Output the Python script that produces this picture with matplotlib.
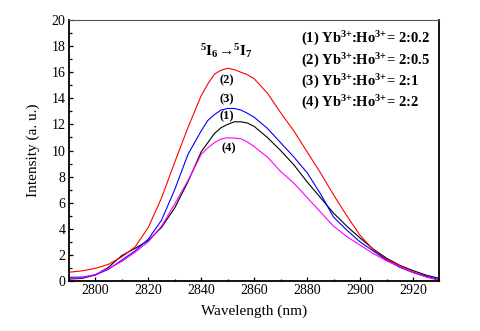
import matplotlib
matplotlib.use("Agg")
import matplotlib.pyplot as plt
from matplotlib.ticker import MultipleLocator

plt.rcParams['font.family'] = ['Liberation Serif', 'DejaVu Serif']
plt.rcParams['mathtext.fontset'] = 'custom'
plt.rcParams['mathtext.rm'] = 'Liberation Serif'
plt.rcParams['mathtext.bf'] = 'Liberation Serif:bold'
plt.rcParams['mathtext.default'] = 'bf'

# Emission spectra, wavelength in nm
wavelength = [2790, 2795, 2800, 2805, 2810, 2815, 2820, 2825, 2830, 2835,
              2840, 2842.5, 2845, 2847.5, 2850, 2852.5, 2855, 2857.5, 2860,
              2865, 2870, 2875, 2880, 2885, 2890, 2895, 2900, 2905, 2910,
              2915, 2920, 2925, 2930]

# (1) Yb:Ho = 2:0.2
s1 = [0.15, 0.20, 0.46, 1.05, 1.95, 2.50, 3.10, 4.10, 5.60, 7.60,
      9.90, 10.60, 11.30, 11.75, 12.00, 12.20, 12.20, 12.10, 11.85,
      11.00, 10.00, 8.90, 7.60, 6.40, 5.20, 4.20, 3.30, 2.45, 1.75,
      1.20, 0.80, 0.45, 0.20]
# (2) Yb:Ho = 2:0.5
s2 = [0.67, 0.78, 0.97, 1.28, 1.85, 2.60, 4.10, 6.35, 9.10, 11.75,
      14.20, 15.10, 15.85, 16.15, 16.30, 16.20, 16.00, 15.80, 15.50,
      14.40, 12.90, 11.50, 9.90, 8.30, 6.60, 5.00, 3.50, 2.40, 1.65,
      1.15, 0.70, 0.35, 0.05]
# (3) Yb:Ho = 2:1
s3 = [0.28, 0.30, 0.46, 0.90, 1.60, 2.30, 3.20, 4.65, 7.00, 9.70,
      11.50, 12.30, 12.75, 13.10, 13.22, 13.22, 13.10, 12.85, 12.55,
      11.70, 10.60, 9.50, 8.30, 6.70, 4.90, 3.90, 3.00, 2.30, 1.60,
      1.05, 0.65, 0.35, 0.10]
# (4) Yb:Ho = 2:2
s4 = [0.20, 0.25, 0.50, 0.95, 1.50, 2.20, 3.00, 4.20, 5.90, 7.70,
      9.70, 10.20, 10.60, 10.88, 10.98, 10.95, 10.90, 10.65, 10.30,
      9.50, 8.40, 7.50, 6.40, 5.30, 4.20, 3.40, 2.75, 2.10, 1.55,
      1.10, 0.65, 0.30, 0.05]

series = [s1, s2, s3, s4]
colors = ['black', 'red', 'blue', 'magenta']
tags = ['(1)', '(2)', '(3)', '(4)']
ratios = ['2:0.2', '2:0.5', '2:1', '2:2']

fig = plt.figure(figsize=(4.8, 3.31), dpi=100)
ax = fig.add_axes([0.1433, 0.151, 0.7723, 0.7886])

for ys, c in zip(series, colors):
    ax.plot(wavelength, ys, color=c, lw=0.8)

ax.set_xlim(2790, 2930)
ax.set_ylim(0, 20)
ax.xaxis.set_major_locator(MultipleLocator(20))
ax.xaxis.set_minor_locator(MultipleLocator(10))
ax.yaxis.set_major_locator(MultipleLocator(2))
ax.yaxis.set_minor_locator(MultipleLocator(1))
ax.tick_params(which='both', direction='in', top=False, right=False,
               labelsize=10, width=0.9)
ax.tick_params(which='major', length=3.0, pad=2.5)
ax.tick_params(which='minor', length=1.8)

for side in ['left', 'bottom', 'right']:
    ax.spines[side].set_linewidth(1.3)
ax.spines['top'].set_linewidth(0.8)
ax.spines['top'].set_color('#555555')

ax.set_xlabel('Wavelength (nm)', fontsize=11, labelpad=5)
ax.set_ylabel('Intensity (a. u.)', fontsize=11, labelpad=8)

# curve tags near the peaks
tag_pos = {'(2)': (2849.7, 15.4), '(3)': (2849.7, 13.9),
           '(1)': (2849.7, 12.65), '(4)': (2850.3, 10.15)}
for t in tags:
    x, y = tag_pos[t]
    ax.text(x, y, t, fontsize=9, fontweight='bold', ha='center', va='center')

ax.text(2849.7, 17.6, r'$^{5}I_{6}\!\rightarrow\!^{5}I_{7}$', fontsize=11,
        ha='center', va='center')

for i, (t, r) in enumerate(zip(tags, ratios)):
    ax.text(0.627, 0.926 - i * 0.081,
            t + ' Yb$^{3{+}}$:Ho$^{3{+}}$= ' + r,
            transform=ax.transAxes, fontsize=10.5, fontweight='bold',
            ha='left', va='center')

fig.savefig('out.png', dpi=100)
